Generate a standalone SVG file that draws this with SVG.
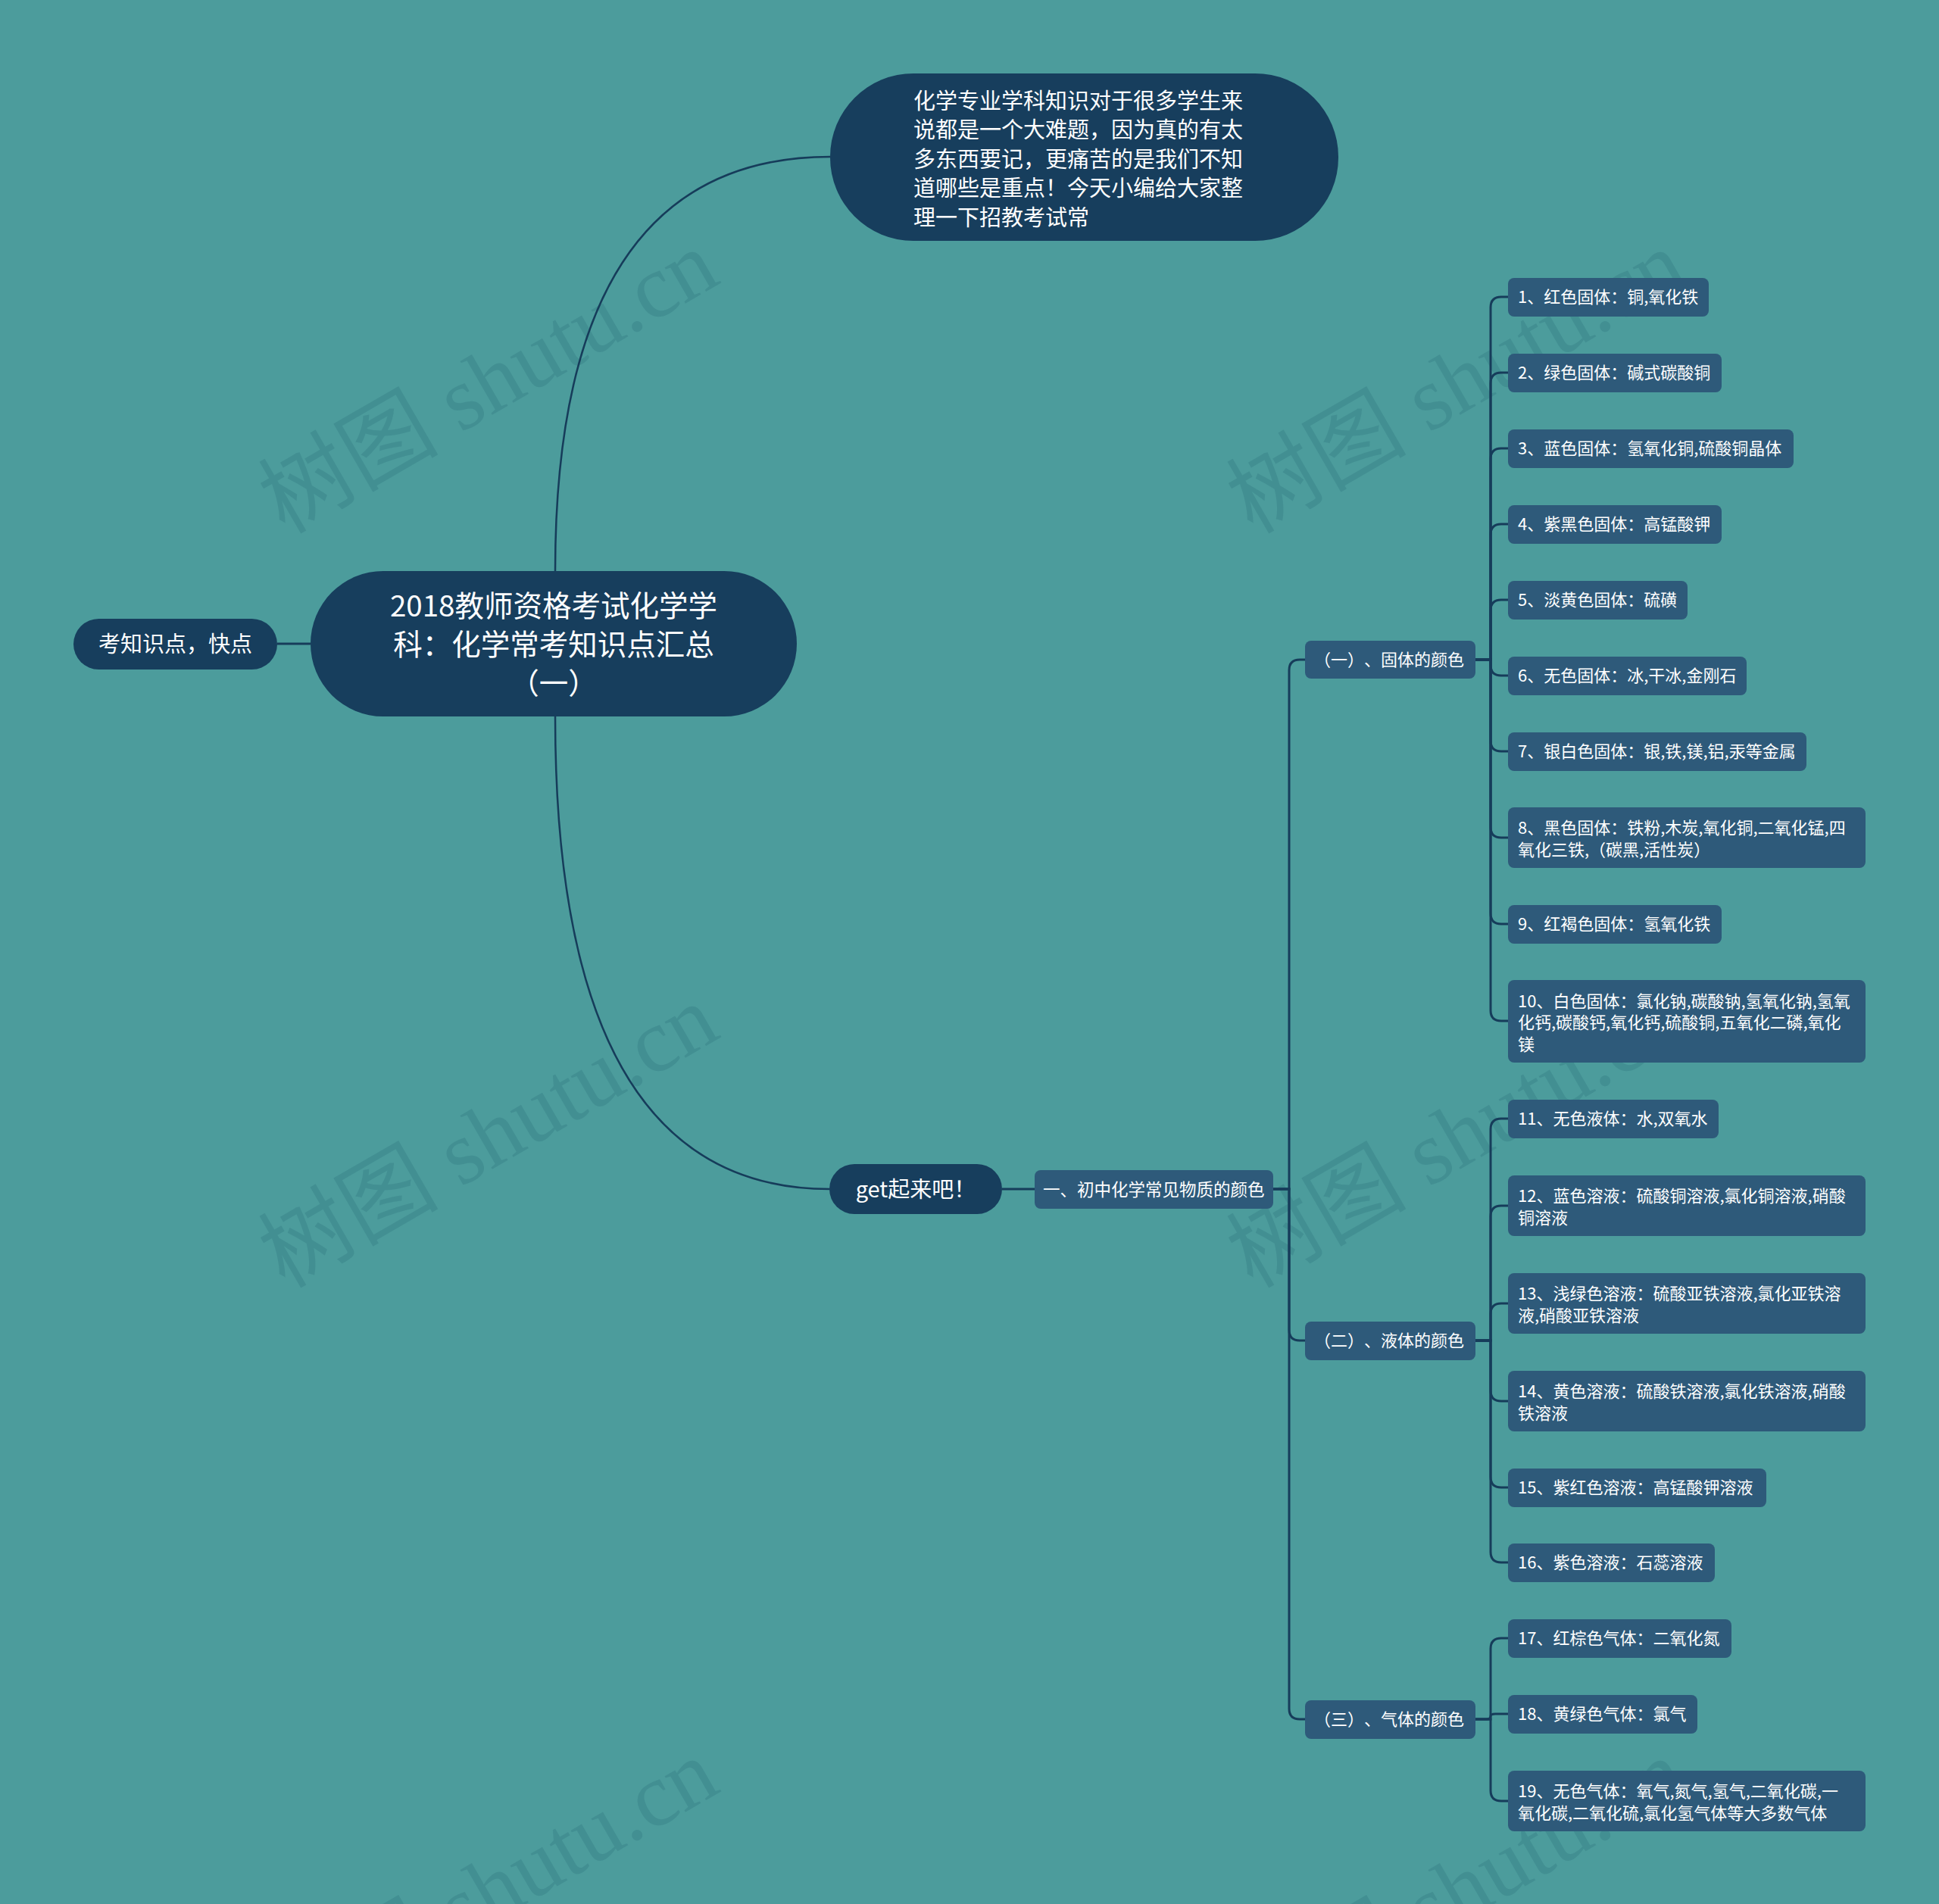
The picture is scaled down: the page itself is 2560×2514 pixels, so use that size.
<svg xmlns="http://www.w3.org/2000/svg" width="2560" height="2514" viewBox="0 0 2560 2514">
<style>
.bg{fill:#4c9c9c}
.wm{font-family:"Liberation Serif","Noto Sans CJK SC",serif;font-size:119px;fill:#1f5f6f;fill-opacity:0.2}
.dk{fill:#173e5d}
.lf{fill:#2e5a7a}
.t{font-family:"Noto Sans CJK SC","Noto Sans",sans-serif;fill:#ffffff;text-spacing-trim:space-all}
.s22{font-size:22px}
.c{stroke:#163c5a;stroke-width:3;fill:none}
.cm{stroke:#163c5a;stroke-width:2.5;fill:none}
</style>
<rect class="bg" x="0" y="0" width="2560" height="2514"/>
<g id="watermarks">
<text class="wm" x="654" y="542" text-anchor="middle" transform="rotate(-30 654 520)">树图 shutu.cn</text>
<text class="wm" x="1932" y="542" text-anchor="middle" transform="rotate(-30 1932 520)">树图 shutu.cn</text>
<text class="wm" x="654" y="1538" text-anchor="middle" transform="rotate(-30 654 1516)">树图 shutu.cn</text>
<text class="wm" x="1932" y="1538" text-anchor="middle" transform="rotate(-30 1932 1516)">树图 shutu.cn</text>
<text class="wm" x="654" y="2534" text-anchor="middle" transform="rotate(-30 654 2512)">树图 shutu.cn</text>
<text class="wm" x="1932" y="2534" text-anchor="middle" transform="rotate(-30 1932 2512)">树图 shutu.cn</text>
</g>
<g id="connectors">
<path class="cm" d="M733 754 Q733 207 1096 207"/>
<path class="cm" d="M733 946 Q733 1570 1095 1570"/>
<path class="c" d="M366 850 H410"/>
<path class="c" d="M1323 1570 H1366"/>
<path class="c" d="M1681 1570 H1702 V885 Q1702 871 1716 871 H1723"/>
<path class="c" d="M1681 1570 H1702 V1756 Q1702 1770 1716 1770 H1723"/>
<path class="c" d="M1681 1570 H1702 V2256 Q1702 2270 1716 2270 H1723"/>
<path class="c" d="M1948 871 H1968 V406 Q1968 392 1982 392 H1991"/>
<path class="c" d="M1948 871 H1968 V506 Q1968 492 1982 492 H1991"/>
<path class="c" d="M1948 871 H1968 V606 Q1968 592 1982 592 H1991"/>
<path class="c" d="M1948 871 H1968 V706 Q1968 692 1982 692 H1991"/>
<path class="c" d="M1948 871 H1968 V806 Q1968 792 1982 792 H1991"/>
<path class="c" d="M1948 871 H1968 V878 Q1968 892 1982 892 H1991"/>
<path class="c" d="M1948 871 H1968 V978 Q1968 992 1982 992 H1991"/>
<path class="c" d="M1948 871 H1968 V1092 Q1968 1106 1982 1106 H1991"/>
<path class="c" d="M1948 871 H1968 V1206 Q1968 1220 1982 1220 H1991"/>
<path class="c" d="M1948 871 H1968 V1334 Q1968 1348 1982 1348 H1991"/>
<path class="c" d="M1948 1770 H1968 V1491 Q1968 1477 1982 1477 H1991"/>
<path class="c" d="M1948 1770 H1968 V1606 Q1968 1592 1982 1592 H1991"/>
<path class="c" d="M1948 1770 H1968 V1735 Q1968 1721 1982 1721 H1991"/>
<path class="c" d="M1948 1770 H1968 V1836 Q1968 1850 1982 1850 H1991"/>
<path class="c" d="M1948 1770 H1968 V1950 Q1968 1964 1982 1964 H1991"/>
<path class="c" d="M1948 1770 H1968 V2049 Q1968 2063 1982 2063 H1991"/>
<path class="c" d="M1948 2270 H1968 V2177 Q1968 2163 1982 2163 H1991"/>
<path class="c" d="M1948 2270 H1962 Q1968 2270 1968 2266 Q1968 2263 1974 2263 H1991"/>
<path class="c" d="M1948 2270 H1968 V2364 Q1968 2378 1982 2378 H1991"/>
</g>
<g id="root">
<rect class="dk" x="410" y="754" width="642" height="192" rx="96"/>
<text class="t" font-size="38.5" text-anchor="middle"><tspan x="731" y="814">2018教师资格考试化学学</tspan><tspan x="731" y="865">科：化学常考知识点汇总</tspan><tspan x="731" y="916">（一）</tspan></text>
</g>
<g id="left-node">
<rect class="dk" x="97" y="817" width="269" height="67" rx="33.5"/>
<text class="t" font-size="29" x="231.5" y="861" text-anchor="middle">考知识点，快点</text>
</g>
<g id="intro">
<rect class="dk" x="1096" y="97" width="671" height="221" rx="110"/>
<text class="t" font-size="29"><tspan x="1206" y="144">化学专业学科知识对于很多学生来</tspan><tspan x="1206" y="182">说都是一个大难题，因为真的有太</tspan><tspan x="1206" y="221">多东西要记，更痛苦的是我们不知</tspan><tspan x="1206" y="259">道哪些是重点！今天小编给大家整</tspan><tspan x="1206" y="298">理一下招教考试常</tspan></text>
</g>
<g id="get">
<rect class="dk" x="1095" y="1537" width="228" height="66" rx="33"/>
<text class="t" font-size="29" x="1209" y="1581" text-anchor="middle">get起来吧！</text>
</g>
<g id="colors">
<rect class="lf" x="1366" y="1545" width="315" height="51" rx="8"/>
<text class="t" font-size="22.5" x="1377" y="1579">一、初中化学常见物质的颜色</text>
</g>
<g id="sec1">
<rect class="lf" x="1723" y="846" width="225" height="50" rx="8"/>
<text class="t s22" x="1735" y="879">（一）、固体的颜色</text>
</g>
<g id="sec2">
<rect class="lf" x="1723" y="1745" width="225" height="51" rx="8"/>
<text class="t s22" x="1735" y="1778">（二）、液体的颜色</text>
</g>
<g id="sec3">
<rect class="lf" x="1723" y="2245" width="225" height="51" rx="8"/>
<text class="t s22" x="1735" y="2278">（三）、气体的颜色</text>
</g>
<g id="leaf1"><rect class="lf" x="1991" y="367" width="265" height="51" rx="8"/><text class="t s22" x="2004" y="400">1、红色固体：铜,氧化铁</text></g>
<g id="leaf2"><rect class="lf" x="1991" y="467" width="282" height="51" rx="8"/><text class="t s22" x="2004" y="500">2、绿色固体：碱式碳酸铜</text></g>
<g id="leaf3"><rect class="lf" x="1991" y="567" width="377" height="51" rx="8"/><text class="t s22" x="2004" y="600">3、蓝色固体：氢氧化铜,硫酸铜晶体</text></g>
<g id="leaf4"><rect class="lf" x="1991" y="667" width="282" height="51" rx="8"/><text class="t s22" x="2004" y="700">4、紫黑色固体：高锰酸钾</text></g>
<g id="leaf5"><rect class="lf" x="1991" y="767" width="237" height="51" rx="8"/><text class="t s22" x="2004" y="800">5、淡黄色固体：硫磺</text></g>
<g id="leaf6"><rect class="lf" x="1991" y="867" width="315" height="51" rx="8"/><text class="t s22" x="2004" y="900">6、无色固体：冰,干冰,金刚石</text></g>
<g id="leaf7"><rect class="lf" x="1991" y="967" width="394" height="51" rx="8"/><text class="t s22" x="2004" y="1000">7、银白色固体：银,铁,镁,铝,汞等金属</text></g>
<g id="leaf8"><rect class="lf" x="1991" y="1066" width="472" height="80" rx="8"/><text class="t s22"><tspan x="2004" y="1101">8、黑色固体：铁粉,木炭,氧化铜,二氧化锰,四</tspan><tspan x="2004" y="1130">氧化三铁,（碳黑,活性炭）</tspan></text></g>
<g id="leaf9"><rect class="lf" x="1991" y="1195" width="282" height="51" rx="8"/><text class="t s22" x="2004" y="1228">9、红褐色固体：氢氧化铁</text></g>
<g id="leaf10"><rect class="lf" x="1991" y="1294" width="472" height="109" rx="8"/><text class="t s22"><tspan x="2004" y="1330">10、白色固体：氯化钠,碳酸钠,氢氧化钠,氢氧</tspan><tspan x="2004" y="1358">化钙,碳酸钙,氧化钙,硫酸铜,五氧化二磷,氧化</tspan><tspan x="2004" y="1387">镁</tspan></text></g>
<g id="leaf11"><rect class="lf" x="1991" y="1452" width="278" height="51" rx="8"/><text class="t s22" x="2004" y="1485">11、无色液体：水,双氧水</text></g>
<g id="leaf12"><rect class="lf" x="1991" y="1552" width="472" height="80" rx="8"/><text class="t s22"><tspan x="2004" y="1587">12、蓝色溶液：硫酸铜溶液,氯化铜溶液,硝酸</tspan><tspan x="2004" y="1616">铜溶液</tspan></text></g>
<g id="leaf13"><rect class="lf" x="1991" y="1681" width="472" height="80" rx="8"/><text class="t s22"><tspan x="2004" y="1716">13、浅绿色溶液：硫酸亚铁溶液,氯化亚铁溶</tspan><tspan x="2004" y="1745">液,硝酸亚铁溶液</tspan></text></g>
<g id="leaf14"><rect class="lf" x="1991" y="1810" width="472" height="80" rx="8"/><text class="t s22"><tspan x="2004" y="1845">14、黄色溶液：硫酸铁溶液,氯化铁溶液,硝酸</tspan><tspan x="2004" y="1874">铁溶液</tspan></text></g>
<g id="leaf15"><rect class="lf" x="1991" y="1939" width="341" height="51" rx="8"/><text class="t s22" x="2004" y="1972">15、紫红色溶液：高锰酸钾溶液</text></g>
<g id="leaf16"><rect class="lf" x="1991" y="2038" width="273" height="51" rx="8"/><text class="t s22" x="2004" y="2071">16、紫色溶液：石蕊溶液</text></g>
<g id="leaf17"><rect class="lf" x="1991" y="2138" width="295" height="51" rx="8"/><text class="t s22" x="2004" y="2171">17、红棕色气体：二氧化氮</text></g>
<g id="leaf18"><rect class="lf" x="1991" y="2238" width="250" height="51" rx="8"/><text class="t s22" x="2004" y="2271">18、黄绿色气体：氯气</text></g>
<g id="leaf19"><rect class="lf" x="1991" y="2338" width="472" height="80" rx="8"/><text class="t s22"><tspan x="2004" y="2373">19、无色气体：氧气,氮气,氢气,二氧化碳,一</tspan><tspan x="2004" y="2402">氧化碳,二氧化硫,氯化氢气体等大多数气体</tspan></text></g>
</svg>
